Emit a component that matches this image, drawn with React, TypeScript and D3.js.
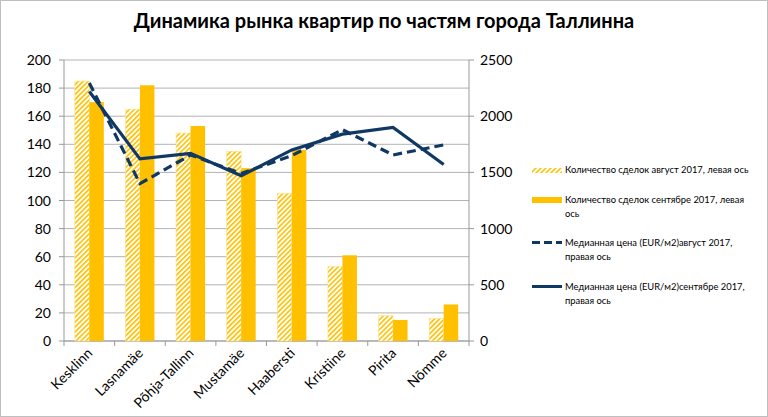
import * as d3 from "d3";

const districts = ["Kesklinn", "Lasnamäe", "Põhja-Tallinn", "Mustamäe", "Haabersti", "Kristiine", "Pirita", "Nõmme"];
const dealsAug = [185, 165, 148, 135, 105, 53, 18, 16];
const dealsSep = [170, 182, 153, 123, 136, 61, 15, 26];
const priceAug = [2295, 1400, 1655, 1490, 1650, 1880, 1655, 1745];
const priceSep = [2220, 1620, 1670, 1470, 1700, 1840, 1900, 1570];
const leftTicks = [0, 20, 40, 60, 80, 100, 120, 140, 160, 180, 200];
const rightTicks = [0, 500, 1000, 1500, 2000, 2500];
const legendLabels = [
  ["Количество сделок август 2017, левая ось"],
  ["Количество сделок сентябре 2017, левая", "ось"],
  ["Медианная цена (EUR/м2)август 2017,", "правая ось"],
  ["Медианная цена (EUR/м2)сентябре 2017,", "правая ось"],
];

const W = 768;
const H = 417;
const left = 64;
const right = 469;
const top = 60;
const bottom = 341;
const yellow = "#FFC000";
const navy = "#0f3864";
const font = "Lato, 'Open Sans', sans-serif";

export default function App() {
  const x = d3.scaleBand<string>().domain(districts).range([left, right]);
  const yL = d3.scaleLinear().domain([0, 200]).range([bottom, top]);
  const yR = d3.scaleLinear().domain([0, 2500]).range([bottom, top]);
  const barW = 14.5;
  const cx = (d: string) => (x(d) as number) + x.bandwidth() / 2;

  const line = (vals: number[]) =>
    d3
      .line<number>()
      .x((_, i) => cx(districts[i]))
      .y((v) => yR(v))(vals) as string;

  const legendY = [173, 203, 246, 290];

  return (
    <svg width={W} height={H} style={{ position: "absolute", left: 0, top: 0 }}>
      <defs>
        <pattern id="hatch" patternUnits="userSpaceOnUse" width="3.5" height="3.5" patternTransform="rotate(45)">
          <rect width="3.5" height="3.5" fill="#fff" />
          <rect width="1.6" height="3.5" fill={yellow} />
        </pattern>
      </defs>
      <rect x={0.5} y={0.5} width={W - 1} height={H - 1} fill="#fff" stroke="#bfbfbf" />
      <text x={384} y={28} textAnchor="middle" fontFamily={font} fontWeight="bold" fontSize={20} fill="#000">
        Динамика рынка квартир по частям города Таллинна
      </text>

      {leftTicks.map((t) => (
        <g key={t}>
          <line x1={left} x2={right} y1={yL(t)} y2={yL(t)} stroke="#b3b3b3" strokeWidth={1} />
          <line x1={left - 5} x2={left} y1={yL(t)} y2={yL(t)} stroke="#999" />
          <text x={left - 13} y={yL(t) + 5} textAnchor="end" fontFamily={font} fontSize={14} fill="#000">
            {t}
          </text>
        </g>
      ))}
      {rightTicks.map((t) => (
        <g key={t}>
          <line x1={right} x2={right + 5} y1={yR(t)} y2={yR(t)} stroke="#999" />
          <text x={right + 11} y={yR(t) + 5} fontFamily={font} fontSize={14} fill="#000">
            {t}
          </text>
        </g>
      ))}
      <line x1={left} x2={left} y1={top} y2={bottom} stroke="#999" />
      <line x1={right} x2={right} y1={top} y2={bottom} stroke="#999" />
      <line x1={left} x2={right} y1={bottom} y2={bottom} stroke="#999" />
      {districts.map((d) => (
        <line key={d} x1={x(d)} x2={x(d)} y1={bottom} y2={bottom + 5} stroke="#999" />
      ))}
      <line x1={right} x2={right} y1={bottom} y2={bottom + 5} stroke="#999" />

      {districts.map((d, i) => (
        <g key={d}>
          <rect
            x={cx(d) - barW}
            y={yL(dealsAug[i])}
            width={barW}
            height={bottom - yL(dealsAug[i])}
            fill="url(#hatch)"
            stroke="#ffe28a"
            strokeWidth={0.6}
          />
          <rect x={cx(d)} y={yL(dealsSep[i])} width={barW} height={bottom - yL(dealsSep[i])} fill={yellow} />
        </g>
      ))}

      <path d={line(priceAug)} fill="none" stroke={navy} strokeWidth={3.2} strokeDasharray="9,5" />
      <path d={line(priceSep)} fill="none" stroke={navy} strokeWidth={3.2} />

      {districts.map((d) => (
        <text
          key={d}
          transform={`translate(${cx(d) + 4},${bottom + 13}) rotate(-45)`}
          textAnchor="end"
          fontFamily={font}
          fontSize={14}
          fill="#000"
        >
          {d}
        </text>
      ))}

      <g fontFamily={font} fontSize={9.4} fill="#000">
        <rect x={532} y={legendY[0] - 5} width={30} height={5} fill="url(#hatch)" />
        <rect x={532} y={legendY[1] - 6} width={30} height={6} fill={yellow} />
        <line x1={532} x2={562} y1={legendY[2] - 3.5} y2={legendY[2] - 3.5} stroke={navy} strokeWidth={3} strokeDasharray="8,4" />
        <line x1={532} x2={562} y1={legendY[3] - 3.5} y2={legendY[3] - 3.5} stroke={navy} strokeWidth={3} />
        {legendLabels.map((lines, i) => (
          <text key={i} x={565} y={legendY[i]}>
            {lines.map((l, j) => (
              <tspan key={j} x={565} dy={j === 0 ? 0 : 14}>
                {l}
              </tspan>
            ))}
          </text>
        ))}
      </g>
    </svg>
  );
}
